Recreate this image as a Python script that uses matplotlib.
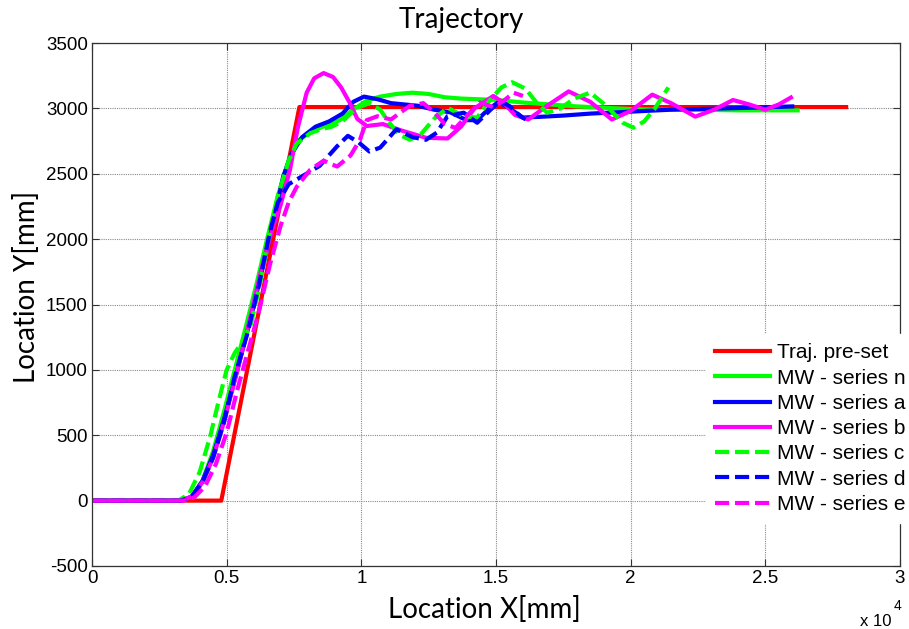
import matplotlib
matplotlib.use("Agg")
import matplotlib.pyplot as plt

plt.rcParams["axes.unicode_minus"] = False

# ---------------- data ----------------
red_x = [0, 4800, 7700, 28000]
red_y = [0, 0, 3010, 3010]

n_x = [0, 3300, 3700, 4100, 4500, 4900, 5300, 5700, 6100, 6500, 6900, 7300, 7700, 8200, 8700,
       9200, 9700, 10200, 10700, 11300, 11900, 12500, 13100, 13700, 14300, 15000, 16000, 17000,
       18000, 19000, 20000, 21000, 22000, 23000, 24000, 25000, 26200]
n_y = [0, 0, 30, 150, 380, 680, 1000, 1320, 1650, 2000, 2330, 2600, 2760, 2830, 2870,
       2910, 2990, 3060, 3090, 3110, 3120, 3110, 3085, 3075, 3070, 3065, 3045, 3030,
       3015, 3005, 2995, 2990, 2990, 2988, 2985, 2985, 2985]

a_x = [0, 3300, 3700, 4100, 4500, 4900, 5400, 5900, 6300, 6700, 7100, 7400, 7800, 8300, 8800,
       9300, 9700, 10100, 10600, 11100, 11600, 12100, 12700, 13300, 13900, 14300, 14700, 15100,
       15500, 16000, 16600, 17500, 18500, 19500, 20500, 21500, 22500, 23500, 24500, 26000]
a_y = [0, 0, 30, 150, 350, 620, 1000, 1400, 1750, 2100, 2480, 2650, 2780, 2860, 2900,
       2960, 3050, 3090, 3070, 3040, 3030, 3020, 2990, 2970, 2910, 2910, 2990, 3050,
       3000, 2930, 2935, 2945, 2960, 2970, 2980, 2990, 2995, 3000, 3005, 3015]

b_x = [0, 3300, 3700, 4100, 4500, 4900, 5400, 5900, 6300, 6700, 7000, 7350, 7650, 7970, 8250,
       8600, 8950, 9250, 9550, 9850, 10200, 10800, 11500, 12400, 13200, 13700, 14200, 14900,
       15300, 15700, 16200, 16900, 17700, 18500, 19300, 20000, 20800, 21500, 22400, 23100,
       23800, 24400, 25000, 25500, 25950]
b_y = [0, 0, 30, 140, 330, 600, 1000, 1420, 1780, 2080, 2260, 2530, 2860, 3120, 3230,
       3270, 3240, 3160, 3050, 2920, 2865, 2880, 2830, 2775, 2770, 2860, 3000, 3095,
       3040, 2950, 2915, 3020, 3130, 3050, 2915, 2980, 3105, 3040, 2937, 2990,
       3064, 3030, 2990, 3030, 3083]

c_x = [0, 3200, 3600, 4000, 4400, 4700, 5000, 5300, 5600, 5900, 6200, 6500, 6900, 7300, 7600,
       8100, 8500, 8900, 9300, 9800, 10300, 10700, 11000, 11400, 11800, 12200, 12700, 13200,
       13800, 14300, 14800, 15200, 15600, 16100, 16500, 16900, 17400, 17900, 18500, 19100,
       19700, 20100, 20500, 20900, 21400]
c_y = [0, 0, 50, 220, 500, 760, 1000, 1130, 1220, 1350, 1620, 1950, 2330, 2600, 2730,
       2810, 2840, 2860, 2900, 3000, 3040, 2990, 2900, 2800, 2760, 2800, 2920, 3005,
       2940, 2930, 3070, 3160, 3200, 3150, 3045, 2967, 3000, 3075, 3121, 3018,
       2891, 2852, 2900, 3000, 3160]

d_x = [0, 3300, 3700, 4100, 4500, 4900, 5300, 5800, 6200, 6600, 6900, 7300, 7800, 8450, 9100,
       9500, 9900, 10300, 10700, 11300, 11900, 12400, 12800, 13200, 13800, 14300, 14800, 15150,
       15500, 15900, 16100]
d_y = [0, 0, 30, 140, 330, 600, 950, 1300, 1650, 2050, 2280, 2420, 2480, 2560, 2710,
       2790, 2740, 2670, 2700, 2840, 2780, 2760, 2814, 2940, 2967, 2890, 2990, 3057,
       3018, 2941, 2916]

e_x = [0, 3400, 3800, 4200, 4600, 5000, 5400, 5800, 6200, 6600, 7000, 7300, 7600, 8100, 8600,
       9100, 9600, 9950, 10200, 10600, 11100, 11800, 12300, 12700, 13100, 13500, 13900, 14400,
       14900, 15300, 15650, 16000]
e_y = [0, 0, 25, 110, 280, 520, 850, 1150, 1450, 1800, 2100, 2280, 2400, 2530, 2600,
       2555, 2640, 2760, 2910, 2940, 2915, 3020, 3040, 2970, 2880, 2850, 2940, 3045,
       3010, 3060, 3120, 3095]

labels = ["Traj. pre-set", "MW - series n", "MW - series a", "MW - series b",
          "MW - series c", "MW - series d", "MW - series e"]
x_ticks = [0, 5000, 10000, 15000, 20000, 25000, 30000]
x_ticklabels = ["0", "0.5", "1", "1.5", "2", "2.5", "3"]
y_ticks = [-500, 0, 500, 1000, 1500, 2000, 2500, 3000, 3500]

# ---------------- figure ----------------
fig = plt.figure(figsize=(9.09, 6.29), dpi=100)
ax = fig.add_axes([92/909, 1 - 566/629, (900-92)/909, (566-43)/629])

RED, GRN, BLU, MAG = "#ff0000", "#00ff00", "#0000ff", "#ff00ff"
lw = 3.0
dash = (0, (3.4, 1.4))
ax.plot(red_x, red_y, color=RED, lw=lw, label=labels[0])
ax.plot(n_x, n_y, color=GRN, lw=lw, label=labels[1])
ax.plot(a_x, a_y, color=BLU, lw=lw, label=labels[2])
ax.plot(b_x, b_y, color=MAG, lw=lw, label=labels[3])
ax.plot(c_x, c_y, color=GRN, lw=lw, ls=dash, label=labels[4])
ax.plot(d_x, d_y, color=BLU, lw=lw, ls=dash, label=labels[5])
ax.plot(e_x, e_y, color=MAG, lw=lw, ls=dash, label=labels[6])

ax.set_xlim(0, 30000)
ax.set_ylim(-500, 3500)
ax.set_xticks(x_ticks)
ax.set_xticklabels(x_ticklabels)
ax.set_yticks(y_ticks)
ax.grid(True, color="#8a8a8a", ls=(0, (1, 1)), lw=0.8)
ax.tick_params(direction="in", top=True, right=True, length=5, color="#333333",
               labelsize=13.5, pad=3)
for lab in ax.get_xticklabels() + ax.get_yticklabels():
    lab.set_family("Liberation Sans")
for s in ax.spines.values():
    s.set_color("#333333")
    s.set_linewidth(0.9)

fig.text(461/909, 1 - 20/629, "Trajectory", family="Lato", fontsize=20,
         ha="center", va="center")
fig.text(484/909, 1 - 609/629, "Location X[mm]", family="Lato", fontsize=20,
         ha="center", va="center")
fig.text(27/909, 1 - 287/629, "Location Y[mm]", family="Lato", fontsize=20,
         ha="center", va="center", rotation=90)
fig.text(876/909, 1 - 621/629, "x 10", family="Liberation Sans", fontsize=12,
         ha="center", va="center")
fig.text(898/909, 1 - 606/629, "4", family="Liberation Sans", fontsize=10,
         ha="center", va="center")

leg = ax.legend(loc="upper left", bbox_to_anchor=((706-92)/808, (566-334)/523),
                borderaxespad=0, frameon=True, facecolor="white", edgecolor="white",
                framealpha=1, fancybox=False, prop={"family": "Liberation Sans", "size": 15},
                handlelength=2.6, handletextpad=0.36, labelspacing=0.3, borderpad=0.45)
leg.set_zorder(5)

fig.savefig("out.png", dpi=100)
